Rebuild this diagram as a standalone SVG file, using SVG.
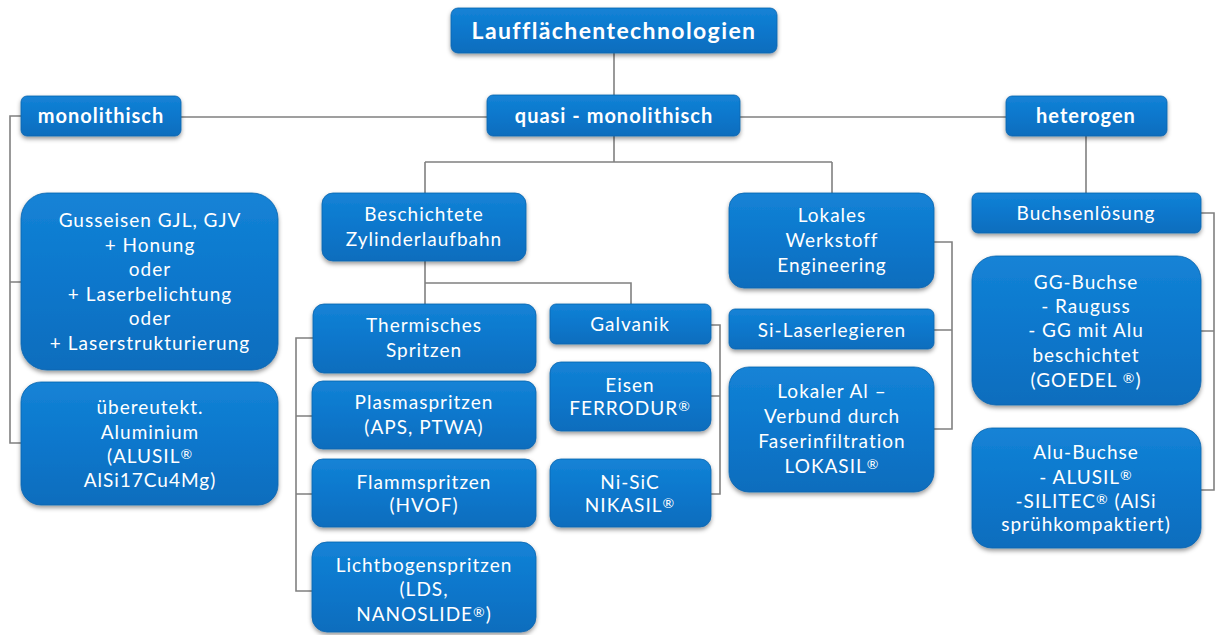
<svg xmlns="http://www.w3.org/2000/svg" width="1215" height="635" viewBox="0 0 1215 635">
<defs>
<linearGradient id="g" x1="0" y1="0" x2="0" y2="1">
<stop offset="0" stop-color="#1583d6"/>
<stop offset="0.5" stop-color="#0a77cc"/>
<stop offset="1" stop-color="#096dbd"/>
</linearGradient>
<filter id="sh" x="-10%" y="-10%" width="120%" height="130%">
<feDropShadow dx="0" dy="2.5" stdDeviation="2" flood-color="#000" flood-opacity="0.4"/>
</filter>
</defs>
<style>
.b{fill:url(#g);stroke:#0a64ad;stroke-width:0.8;filter:url(#sh)}
.t{font-family:Lato,"Open Sans",sans-serif;font-size:19px;fill:#fff;text-anchor:middle;letter-spacing:1px}
.h{font-family:Lato,"Open Sans",sans-serif;font-size:20px;font-weight:bold;fill:#fff;text-anchor:middle;letter-spacing:1px}
.r{font-size:14px;baseline-shift:4px}
.c{fill:none;stroke:#808080;stroke-width:1.6}
</style>
<rect width="1215" height="635" fill="#fff"/>
<g id="connectors">
<path class="c" d="M614 53V95"/>
<path class="c" d="M181 117H487M740 117H1006"/>
<path class="c" d="M21 116H10V443H21M10 282H21"/>
<path class="c" d="M614 136V162M425 162H832M425 162V193M832 162V193"/>
<path class="c" d="M425 261V283M425 283V304M425 283H631V304"/>
<path class="c" d="M313 338H296V591H312M296 416H312M296 494H312"/>
<path class="c" d="M711 325H720V494H711M720 396H711"/>
<path class="c" d="M934 242H952V429H934M952 330H934"/>
<path class="c" d="M1086 136V193"/>
<path class="c" d="M1201 213H1214V490H1201M1214 331H1201"/>
</g>
<g id="root"><rect class="b" x="451" y="8" width="326" height="45" rx="7"/><text class="h" x="614" y="39" style="font-size:23px;letter-spacing:1.4px">Laufflächentechnologien</text></g>
<g id="monolithisch"><rect class="b" x="21" y="96" width="160" height="40" rx="6"/><text class="h" x="101" y="123">monolithisch</text></g>
<g id="quasi"><rect class="b" x="487" y="95" width="253" height="41" rx="6"/><text class="h" x="614" y="123">quasi - monolithisch</text></g>
<g id="heterogen"><rect class="b" x="1006" y="96" width="161" height="40" rx="6"/><text class="h" x="1086" y="123">heterogen</text></g>
<g id="gusseisen"><rect class="b" x="21" y="193" width="257" height="177" rx="26"/><text class="t" x="150"><tspan x="150" y="227">Gusseisen GJL, GJV</tspan><tspan x="150" y="251.5">+ Honung</tspan><tspan x="150" y="276">oder</tspan><tspan x="150" y="300.5">+ Laserbelichtung</tspan><tspan x="150" y="325">oder</tspan><tspan x="150" y="349.5">+ Laserstrukturierung</tspan></text></g>
<g id="uebereutekt"><rect class="b" x="21" y="382" width="257" height="123" rx="20"/><text class="t"><tspan x="150" y="414">übereutekt.</tspan><tspan x="150" y="438.5">Aluminium</tspan><tspan x="150" y="463">(ALUSIL<tspan class="r">®</tspan></tspan><tspan x="150" y="487">AlSi17Cu4Mg)</tspan></text></g>
<g id="beschichtete"><rect class="b" x="322" y="193" width="204" height="68" rx="11"/><text class="t"><tspan x="424" y="221">Beschichtete</tspan><tspan x="424" y="246">Zylinderlaufbahn</tspan></text></g>
<g id="thermisches"><rect class="b" x="313" y="304" width="223" height="69" rx="11"/><text class="t"><tspan x="424" y="332">Thermisches</tspan><tspan x="424" y="357">Spritzen</tspan></text></g>
<g id="plasma"><rect class="b" x="312" y="381" width="224" height="68" rx="11"/><text class="t"><tspan x="424" y="409">Plasmaspritzen</tspan><tspan x="424" y="434">(APS, PTWA)</tspan></text></g>
<g id="flamm"><rect class="b" x="312" y="459" width="224" height="68" rx="11"/><text class="t"><tspan x="424" y="489">Flammspritzen</tspan><tspan x="424" y="512">(HVOF)</tspan></text></g>
<g id="licht"><rect class="b" x="312" y="542" width="224" height="90" rx="15"/><text class="t"><tspan x="424" y="572">Lichtbogenspritzen</tspan><tspan x="424" y="596">(LDS,</tspan><tspan x="424" y="621">NANOSLIDE<tspan class="r">®</tspan>)</tspan></text></g>
<g id="galvanik"><rect class="b" x="550" y="304" width="161" height="40" rx="6"/><text class="t" x="630" y="331">Galvanik</text></g>
<g id="eisen"><rect class="b" x="550" y="362" width="161" height="69" rx="11"/><text class="t"><tspan x="630" y="392">Eisen</tspan><tspan x="630" y="415">FERRODUR<tspan class="r">®</tspan></tspan></text></g>
<g id="nisic"><rect class="b" x="550" y="459" width="161" height="68" rx="11"/><text class="t"><tspan x="630" y="489">Ni-SiC</tspan><tspan x="630" y="512">NIKASIL<tspan class="r">®</tspan></tspan></text></g>
<g id="lokales"><rect class="b" x="729" y="193" width="205" height="95" rx="15"/><text class="t"><tspan x="832" y="222">Lokales</tspan><tspan x="832" y="247">Werkstoff</tspan><tspan x="832" y="272">Engineering</tspan></text></g>
<g id="silaser"><rect class="b" x="729" y="309" width="205" height="40" rx="6"/><text class="t" x="832" y="337">Si-Laserlegieren</text></g>
<g id="lokaler"><rect class="b" x="729" y="367" width="205" height="125" rx="20"/><text class="t"><tspan x="832" y="398">Lokaler Al –</tspan><tspan x="832" y="423">Verbund durch</tspan><tspan x="832" y="448">Faserinfiltration</tspan><tspan x="832" y="473">LOKASIL<tspan class="r">®</tspan></tspan></text></g>
<g id="buchsen"><rect class="b" x="972" y="193" width="229" height="40" rx="6"/><text class="t" x="1086" y="220">Buchsenlösung</text></g>
<g id="gg"><rect class="b" x="972" y="256" width="229" height="149" rx="24"/><text class="t"><tspan x="1086" y="289">GG-Buchse</tspan><tspan x="1086" y="313">- Rauguss</tspan><tspan x="1086" y="337">- GG mit Alu</tspan><tspan x="1086" y="362">beschichtet</tspan><tspan x="1086" y="387">(GOEDEL <tspan class="r">®</tspan>)</tspan></text></g>
<g id="alu"><rect class="b" x="972" y="428" width="229" height="120" rx="20"/><text class="t"><tspan x="1086" y="459">Alu-Buchse</tspan><tspan x="1086" y="484">- ALUSIL<tspan class="r">®</tspan></tspan><tspan x="1086" y="508">-SILITEC<tspan class="r">®</tspan> (AlSi</tspan><tspan x="1086" y="531">sprühkompaktiert)</tspan></text></g>
</svg>
